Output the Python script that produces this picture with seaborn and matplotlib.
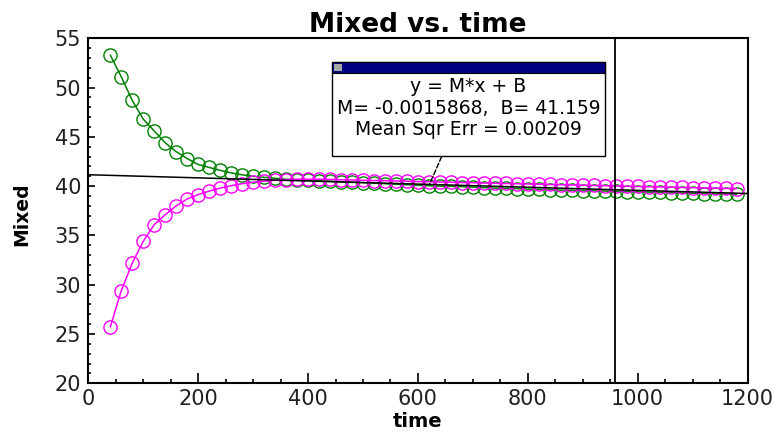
import numpy as np
import pandas as pd
import matplotlib
matplotlib.use("Agg")
import matplotlib.pyplot as plt
from matplotlib.patches import Rectangle
import seaborn as sns

# ---------------- data ----------------
time = [40, 60, 80, 100, 120, 140, 160, 180, 200, 220,
        240, 260, 280, 300, 320, 340, 360, 380, 400, 420,
        440, 460, 480, 500, 520, 540, 560, 580, 600, 620,
        640, 660, 680, 700, 720, 740, 760, 780, 800, 820,
        840, 860, 880, 900, 920, 940, 960, 980, 1000, 1020,
        1040, 1060, 1080, 1100, 1120, 1140, 1160, 1180]

mixed_green = [53.3, 51.1, 48.7, 46.8, 45.6, 44.4, 43.5, 42.8, 42.2, 41.9,
               41.6, 41.35, 41.15, 41.0, 40.9, 40.8, 40.7, 40.65, 40.6, 40.55,
               40.5, 40.45, 40.4, 40.35, 40.3, 40.25, 40.2, 40.15, 40.1, 40.05,
               40.0, 39.98, 39.95, 39.9, 39.85, 39.8, 39.78, 39.75, 39.7, 39.68,
               39.65, 39.6, 39.58, 39.55, 39.52, 39.5, 39.48, 39.45, 39.42, 39.4,
               39.37, 39.35, 39.3, 39.28, 39.25, 39.23, 39.2, 39.18]

mixed_pink = [25.7, 29.4, 32.2, 34.4, 36.1, 37.1, 38.0, 38.7, 39.15, 39.5,
              39.8, 40.05, 40.25, 40.4, 40.5, 40.6, 40.65, 40.7, 40.7, 40.7,
              40.68, 40.65, 40.62, 40.6, 40.57, 40.55, 40.52, 40.5, 40.47, 40.45,
              40.42, 40.4, 40.37, 40.35, 40.32, 40.3, 40.27, 40.25, 40.22, 40.2,
              40.17, 40.15, 40.12, 40.1, 40.07, 40.05, 40.02, 40.0, 39.97, 39.95,
              39.92, 39.9, 39.87, 39.85, 39.82, 39.8, 39.77, 39.75]

fit_M = -0.0015868
fit_B = 41.159
fit_mse = 0.00209
fit_x = [0, 1200]
cursor_x = 958
pointer_x = 621

title = "Mixed vs. time"
xlabel = "time"
ylabel = "Mixed"
box_lines = ["y = M*x + B",
             f"M= {fit_M},  B= {fit_B}",
             f"Mean Sqr Err = {fit_mse}"]

# ---------------- figure ----------------
sns.set_theme(style="ticks")
plt.rcParams["font.family"] = ["DejaVu Sans"]

W, H = 774, 434
fig = plt.figure(figsize=(W / 100, H / 100), dpi=100)
fig.patch.set_facecolor("white")

ax_l, ax_r, ax_t, ax_b = 88.3, 747.5, 38.3, 383.3
ax = fig.add_axes([ax_l / W, 1 - ax_b / H, (ax_r - ax_l) / W, (ax_b - ax_t) / H])
ax.set_facecolor("white")

df = pd.DataFrame({"time": time + time,
                   "Mixed": mixed_green + mixed_pink,
                   "series": ["g"] * len(time) + ["p"] * len(time)})

palette = {"g": "#008000", "p": "#FF00FF"}
for key in ["g", "p"]:
    sub = df[df["series"] == key]
    sns.lineplot(data=sub, x="time", y="Mixed", ax=ax, color=palette[key],
                 marker="o", markersize=9.5, markerfacecolor="none",
                 markeredgecolor=palette[key], markeredgewidth=1.0,
                 linewidth=1.1, legend=False, sort=False)

fit_y = [fit_M * x + fit_B for x in fit_x]
ax.plot(fit_x, fit_y, color="black", linewidth=1.1, zorder=4)
ax.axvline(cursor_x, color="black", linewidth=1.3, zorder=5)

ax.set_xlim(0, 1200)
ax.set_ylim(20, 55)
ax.set_xticks([0, 200, 400, 600, 800, 1000, 1200])
ax.set_xticks(np.arange(0, 1201, 50), minor=True)
ax.set_yticks([20, 25, 30, 35, 40, 45, 50, 55])
ax.set_yticks(np.arange(20, 56, 1), minor=True)
ax.tick_params(axis="both", which="both", direction="in", colors="black",
               labelsize=15, width=1.2, bottom=True, left=True,
               top=False, right=False)
ax.tick_params(axis="x", which="major", length=7, pad=4)
ax.tick_params(axis="x", which="minor", length=3)
ax.tick_params(axis="y", which="major", length=5, pad=5)
ax.tick_params(axis="y", which="minor", length=2.5)
for lab in ax.get_xticklabels() + ax.get_yticklabels():
    lab.set_color("#202020")

for s in ax.spines.values():
    s.set_visible(True)
    s.set_color("black")
    s.set_linewidth(1.5)

ax.set_title(title, fontsize=19, fontweight="bold", pad=4, color="black")
ax.set_xlabel(xlabel, fontsize=14, fontweight="bold", labelpad=2, color="black")
ax.set_ylabel(ylabel, fontsize=13.5, fontweight="bold", color="black")
ax.yaxis.set_label_coords(-0.087, 0.49)

# ---------------- fit box ----------------
def fx(px):
    return px / W

def fy(py):
    return 1 - py / H

bx0, bx1, by0, by1 = 331.7, 605.0, 62.0, 156.0
fig.patches.append(Rectangle((fx(bx0), fy(by1)), fx(bx1) - fx(bx0), fy(by0) - fy(by1),
                             transform=fig.transFigure, facecolor="white",
                             edgecolor="black", linewidth=1.0, zorder=10))
fig.patches.append(Rectangle((fx(bx0), fy(72.5)), fx(bx1) - fx(bx0), fy(by0) - fy(72.5),
                             transform=fig.transFigure, facecolor="#000080",
                             edgecolor="black", linewidth=0.8, zorder=11))
fig.patches.append(Rectangle((fx(333.5), fy(71)), fx(341.5) - fx(333.5), fy(64.5) - fy(71),
                             transform=fig.transFigure, facecolor="#A8A8A8",
                             edgecolor="none", zorder=12))
cx = (bx0 + bx1) / 2
for line, py in zip(box_lines, [86.7, 108.3, 130.0]):
    fig.text(fx(cx), fy(py), line, ha="center", va="center", fontsize=13.5,
             color="black", zorder=13)

ax.annotate("", xy=(pointer_x, fit_M * pointer_x + fit_B), xycoords="data",
            xytext=(fx(441.7), fy(156.5)), textcoords="figure fraction",
            arrowprops=dict(arrowstyle="-", linestyle="--", color="black",
                            linewidth=1.0, shrinkA=0, shrinkB=0),
            zorder=9)

fig.savefig("out.png", dpi=100)
